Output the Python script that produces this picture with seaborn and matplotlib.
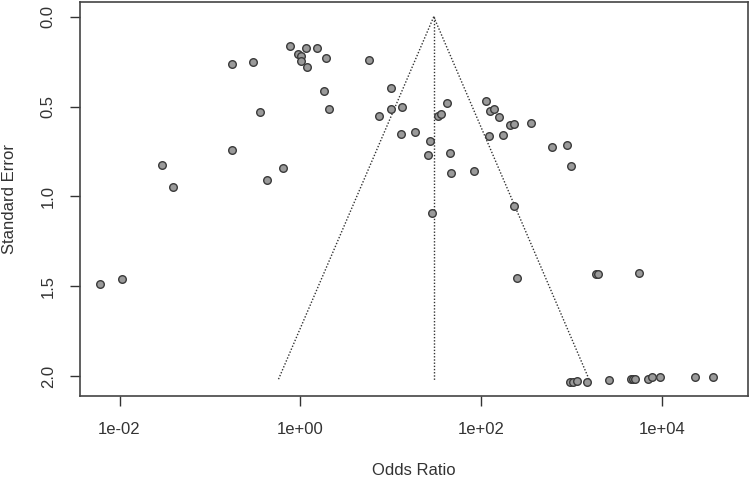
import numpy as np
import pandas as pd
import matplotlib
matplotlib.use("Agg")
import matplotlib.pyplot as plt
import seaborn as sns

# ---- data ----
odds_ratio = [0.769, 0.951, 1.019, 1.009, 1.156, 1.517, 1.910, 1.186, 0.175, 0.302,
              5.794, 1.841, 2.061, 0.358, 0.175, 0.0293, 0.0394, 0.649, 0.432,
              10.07, 10.07, 13.43, 7.43, 13.00, 18.58, 27.4, 25.6, 45.0, 46.1, 83.4,
              42.0, 33.7, 36.0, 28.8, 114.3, 126.5, 140.0, 157.8, 210.4, 231.2, 358.9,
              122.2, 174.6, 603.9, 885.1, 995.4, 232.8,
              251.2, 1879, 1950, 5585, 961.6, 1047, 1159, 1483, 2600, 4550, 4797, 5047,
              7079, 7709, 9462, 23230, 37070, 0.00608, 0.01074]
std_error = [0.163, 0.209, 0.219, 0.247, 0.176, 0.176, 0.231, 0.278, 0.265, 0.254,
             0.241, 0.415, 0.514, 0.530, 0.742, 0.825, 0.946, 0.844, 0.909,
             0.398, 0.512, 0.501, 0.553, 0.651, 0.643, 0.692, 0.770, 0.759, 0.871, 0.860,
             0.482, 0.553, 0.541, 1.094, 0.469, 0.523, 0.515, 0.560, 0.603, 0.595, 0.592,
             0.662, 0.657, 0.723, 0.716, 0.829, 1.053,
             1.456, 1.432, 1.432, 1.425, 2.031, 2.031, 2.026, 2.031, 2.020, 2.014, 2.014, 2.014,
             2.014, 2.007, 2.007, 2.007, 2.007, 1.487, 1.461]
funnel_center = 29.9
funnel_se_max = 2.024
x_ticks = [1e-2, 1e0, 1e2, 1e4]
x_tick_labels = ["1e-02", "1e+00", "1e+02", "1e+04"]
y_ticks = [0.0, 0.5, 1.0, 1.5, 2.0]
y_tick_labels = ["0.0", "0.5", "1.0", "1.5", "2.0"]

df = pd.DataFrame({"or": odds_ratio, "se": std_error})

sns.set_style("white")
plt.rcParams["font.family"] = ["Liberation Sans", "DejaVu Sans"]

fig = plt.figure(figsize=(7.5, 4.78), dpi=100)
ax = fig.add_axes([0.1067, 0.1715, 0.8903, 0.8243])

text_col = "#333333"
line_col = "#333333"

# funnel lines
se_line = [0.0, funnel_se_max]
lo = [funnel_center, funnel_center * np.exp(-1.96 * funnel_se_max)]
hi = [funnel_center, funnel_center * np.exp(1.96 * funnel_se_max)]
ax.plot(lo, se_line, linestyle=(0, (1, 1.3)), color=line_col, linewidth=1.0)
ax.plot(hi, se_line, linestyle=(0, (1, 1.3)), color=line_col, linewidth=1.0)
ax.plot([funnel_center, funnel_center], se_line, linestyle=(0, (1, 1.3)),
        color=line_col, linewidth=1.0)

sns.scatterplot(data=df, x="or", y="se", ax=ax, s=30, color="#9a9a9a",
                edgecolor="#3a3a3a", linewidth=1.0, zorder=3)

ax.set_xscale("log")
ax.set_xlim(10 ** -2.437, 10 ** 4.949)
ax.set_ylim(2.111, -0.082)
ax.set_xticks(x_ticks)
ax.set_xticklabels(x_tick_labels)
ax.set_yticks(y_ticks)
ax.set_yticklabels(y_tick_labels, rotation=90, va="center")
ax.minorticks_off()

ax.tick_params(axis="both", which="major", length=7.5, width=1.0, color=line_col,
               labelsize=12, labelcolor=text_col, direction="out",
               bottom=True, left=True)
ax.tick_params(axis="x", pad=11)
ax.tick_params(axis="y", pad=10)

for sp in ax.spines.values():
    sp.set_visible(True)
    sp.set_color("#444444")
    sp.set_linewidth(1.2)

ax.set_xlabel("Odds Ratio", fontsize=12, color=text_col)
ax.set_ylabel("Standard Error", fontsize=12, color=text_col)
ax.xaxis.set_label_coords(0.5, -0.17)
ax.yaxis.set_label_coords(-0.095, 0.5)

fig.savefig("out.png", dpi=100)
